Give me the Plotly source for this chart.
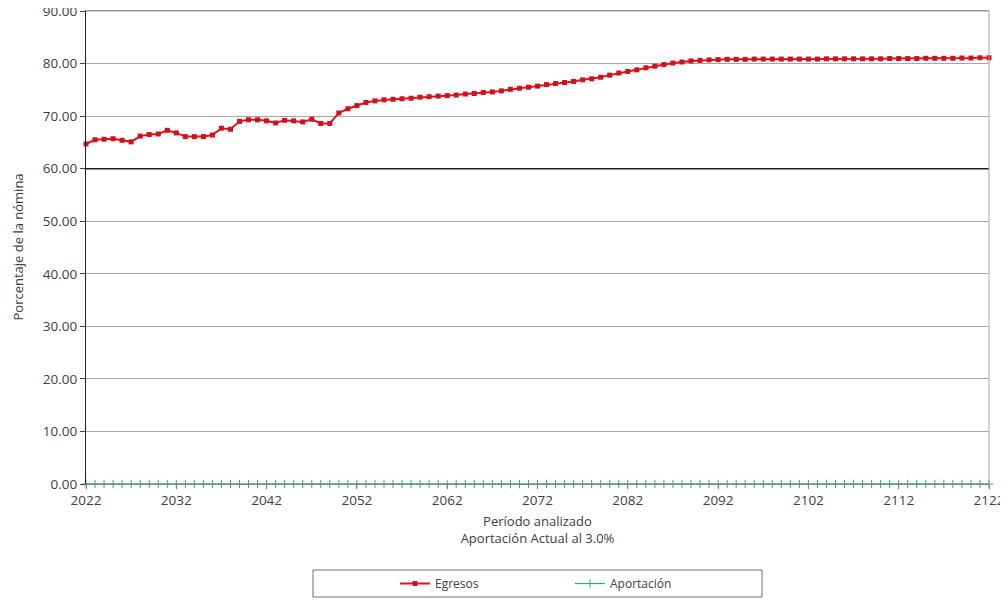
import plotly.graph_objects as go

years = list(range(2022, 2123))

egresos = [
    64.7, 65.5, 65.6, 65.7, 65.4, 65.1, 66.2, 66.5, 66.6, 67.3,
    66.8, 66.1, 66.1, 66.1, 66.4, 67.7, 67.5, 69.0, 69.3, 69.3,
    69.1, 68.7, 69.2, 69.1, 68.9, 69.4, 68.6, 68.6, 70.6, 71.4,
    72.0, 72.6, 72.9, 73.1, 73.2, 73.3, 73.4, 73.6, 73.7, 73.8,
    73.9, 74.0, 74.2, 74.3, 74.5, 74.6, 74.8, 75.1, 75.3, 75.5,
    75.7, 76.0, 76.2, 76.4, 76.6, 76.9, 77.1, 77.4, 77.8, 78.2,
    78.5, 78.8, 79.2, 79.5, 79.8, 80.1, 80.3, 80.5, 80.6, 80.7,
    80.75, 80.8, 80.8, 80.8, 80.85, 80.85, 80.85, 80.85, 80.85, 80.85,
    80.85, 80.85, 80.9, 80.9, 80.9, 80.9, 80.9, 80.9, 80.9, 80.95,
    80.95, 80.95, 80.95, 81.0, 81.0, 81.0, 81.0, 81.05, 81.05, 81.1,
    81.1,
]

aportacion = [0.0] * len(years)

x_ticks = [2022, 2032, 2042, 2052, 2062, 2072, 2082, 2092, 2102, 2112, 2122]
y_ticks = [0, 10, 20, 30, 40, 50, 60, 70, 80, 90]
ref_line = 60

FONT = "Open Sans"
TXT = "#404040"

fig = go.Figure()
fig.add_trace(go.Scatter(
    x=years, y=egresos, name="Egresos", mode="lines+markers",
    line=dict(color="#E0101E", width=2),
    marker=dict(symbol="square", size=5, color="#D0101C"),
    cliponaxis=False,
))
fig.add_trace(go.Scatter(
    x=years, y=aportacion, name="Aportación", mode="lines+markers",
    line=dict(color="#3AA583", width=1.2),
    marker=dict(symbol="cross-thin-open", size=6, line=dict(color="#2E8B6E", width=1)),
    cliponaxis=False,
))

fig.add_shape(type="line", xref="paper", yref="y", x0=0, x1=1, y0=ref_line, y1=ref_line,
              line=dict(color="#202020", width=1.5), layer="above")
# legend frame
fig.add_shape(type="rect", xref="paper", yref="paper",
              x0=(313 - 86) / 903, x1=(762 - 86) / 903,
              y0=(484 - 597) / 473, y1=(484 - 570) / 473,
              line=dict(color="#707070", width=1), fillcolor="rgba(0,0,0,0)")

# y-axis title as annotation
fig.add_annotation(text="Porcentaje de la nómina", xref="paper", yref="paper",
                   x=(17 - 86) / 903, y=0.5, xanchor="center", yanchor="middle",
                   textangle=-90, showarrow=False, font=dict(size=13, color=TXT))

# the page body adds an 8px offset, so top/left margins are 8px smaller
fig.update_layout(
    width=1010, height=593,
    margin=dict(l=78, r=29, t=3, b=117),
    paper_bgcolor="white", plot_bgcolor="white",
    font=dict(family=FONT, size=13, color=TXT),
    showlegend=True,
    legend=dict(orientation="h", x=(395 - 86) / 903, xanchor="left",
                y=(484 - 583.5) / 473, yanchor="middle",
                font=dict(size=12, color=TXT), entrywidth=130,
                bgcolor="rgba(0,0,0,0)", borderwidth=0),
    xaxis=dict(
        range=[2022, 2122], tickvals=x_ticks, ticktext=[str(v) for v in x_ticks],
        showgrid=False, showline=True, linecolor="#808080", linewidth=1,
        mirror=True, ticks="outside", ticklen=4, tickcolor="#808080",
        zeroline=False, automargin=False, ticklabeloverflow="allow",
        tickfont=dict(size=13.5, color=TXT),
        title=dict(text="Período analizado<br>Aportación Actual al 3.0%",
                   font=dict(size=13, color=TXT), standoff=8),
    ),
    yaxis=dict(
        range=[0, 90], tickvals=y_ticks, tickformat=".2f",
        showgrid=True, gridcolor="#A6A6A6", gridwidth=1,
        showline=True, linecolor="#202020", linewidth=1, mirror=False,
        ticks="outside", ticklen=5, tickcolor="#404040",
        zeroline=False, automargin=False, ticklabeloverflow="allow",
        tickfont=dict(size=13.5, color=TXT),
    ),
)
# top/right frame in gray
fig.add_shape(type="line", xref="paper", yref="paper", x0=0, x1=1, y0=1, y1=1,
              line=dict(color="#A6A6A6", width=1))
fig.add_shape(type="line", xref="paper", yref="paper", x0=1, x1=1, y0=0, y1=1,
              line=dict(color="#A6A6A6", width=1))

fig.write_html(
    "out.html",
    config={"displayModeBar": False, "responsive": False},
    post_script=(
        "document.body.style.marginBottom='0';"
        "document.body.style.overflow='hidden';"
        "document.querySelectorAll('.main-svg').forEach(function(s){s.style.overflow='visible';});"
    ),
)
